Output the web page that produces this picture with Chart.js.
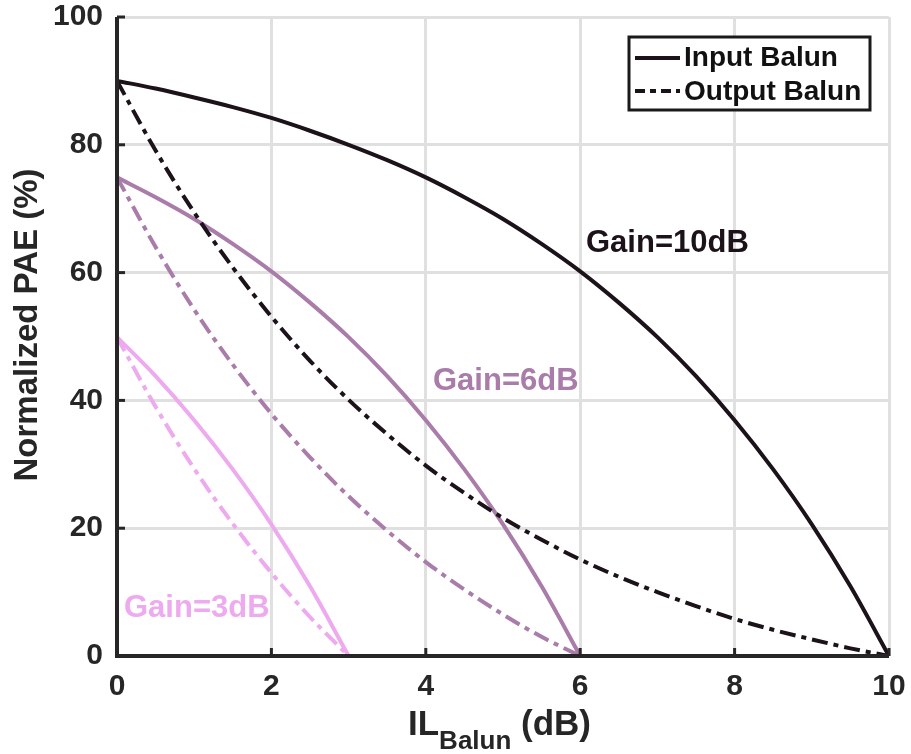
<!DOCTYPE html>
<html>
<head>
<meta charset="utf-8">
<script src="https://cdn.jsdelivr.net/npm/chart.js"></script>
<style>
  html, body { margin: 0; padding: 0; background: #fff; }
  #wrap { width: 911px; height: 754px; }
</style>
</head>
<body>
<div id="wrap"><canvas id="paeChart" width="911" height="754"></canvas></div>
<script>
// insertion loss of the balun (dB)
const ilDb = [0, 0.5, 1, 1.5, 2, 2.5, 3, 3.5, 4, 4.5, 5, 5.5, 6, 6.5, 7, 7.5, 8, 8.5, 9, 9.5, 10];

// Gain = 10dB
const in10 = [90, 88.8, 87.4, 85.9, 84.2, 82.2, 80.0, 77.6, 74.9, 71.8, 68.4, 64.5, 60.2, 55.3, 49.9, 43.8, 36.9, 29.2, 20.6, 10.9, 0];
const out10 = [90, 79.1, 69.4, 60.8, 53.1, 46.2, 40.1, 34.7, 29.8, 25.5, 21.6, 18.2, 15.1, 12.4, 10.0, 7.8, 5.8, 4.1, 2.6, 1.2, 0];

// Gain = 6dB
const in6 = [74.9, 71.8, 68.4, 64.5, 60.2, 55.3, 49.9, 43.8, 36.9, 29.2, 20.6, 10.9, 0];
const out6 = [74.9, 64.0, 54.2, 45.6, 37.9, 31.1, 25.0, 19.6, 14.7, 10.4, 6.5, 3.0, 0];

// Gain = 3dB
const in3 = [49.9, 43.8, 36.9, 29.2, 20.6, 10.9, 0];
const out3 = [49.9, 39.0, 29.3, 20.7, 13.0, 6.1, 0];

const xTicks = [0, 2, 4, 6, 8, 10];
const yTicks = [0, 20, 40, 60, 80, 100];

const C10 = '#1c1219';
const C6 = '#a97ca9';
const C3 = '#eeaaee';
const DASHDOT = [16, 6, 5, 6];
const FONT = '"Liberation Sans", Arial, Helvetica, sans-serif';

function pts(vals) {
  return vals.map((v, i) => ({ x: ilDb[i], y: v }));
}

function line(data, color, dashed) {
  return {
    data: pts(data),
    borderColor: color,
    borderWidth: 4,
    borderDash: dashed ? DASHDOT : [],
    pointRadius: 0,
    fill: false,
    cubicInterpolationMode: 'monotone'
  };
}

// axes, inward ticks, titles, legend and labels
const decor = {
  id: 'decor',
  afterDatasetsDraw(chart) {
    const ctx = chart.ctx;
    const a = chart.chartArea;
    const xs = chart.scales.x, ys = chart.scales.y;
    ctx.save();
    ctx.strokeStyle = '#262626';
    ctx.lineWidth = 4;
    ctx.beginPath();
    ctx.moveTo(a.left, a.top);
    ctx.lineTo(a.left, a.bottom);
    ctx.lineTo(a.right, a.bottom);
    ctx.stroke();
    ctx.lineWidth = 3;
    xTicks.forEach(t => {
      const px = xs.getPixelForValue(t);
      ctx.beginPath(); ctx.moveTo(px, a.bottom); ctx.lineTo(px, a.bottom - 8); ctx.stroke();
    });
    yTicks.forEach(t => {
      const py = ys.getPixelForValue(t);
      ctx.beginPath(); ctx.moveTo(a.left, py); ctx.lineTo(a.left + 8, py); ctx.stroke();
    });

    // curve labels
    ctx.font = 'bold 31px ' + FONT;
    ctx.textBaseline = 'middle';
    ctx.textAlign = 'left';
    ctx.fillStyle = C10; ctx.fillText('Gain=10dB', 586, 243);
    ctx.fillStyle = C6; ctx.fillText('Gain=6dB', 433, 381);
    ctx.fillStyle = C3; ctx.fillText('Gain=3dB', 124, 608);

    // legend
    ctx.fillStyle = '#fff';
    ctx.fillRect(629, 37, 241, 73);
    ctx.strokeStyle = '#1a1a1a';
    ctx.lineWidth = 3;
    ctx.strokeRect(629, 37, 241, 73);
    ctx.strokeStyle = C10;
    ctx.lineWidth = 4;
    ctx.beginPath(); ctx.moveTo(635, 58); ctx.lineTo(680, 58); ctx.stroke();
    ctx.setLineDash([10, 5, 6, 5]);
    ctx.beginPath(); ctx.moveTo(635, 91); ctx.lineTo(680, 91); ctx.stroke();
    ctx.setLineDash([]);
    ctx.fillStyle = '#111';
    ctx.font = 'bold 28px ' + FONT;
    ctx.fillText('Input Balun', 684, 58);
    ctx.fillText('Output Balun', 684, 92);

    // axis titles
    ctx.fillStyle = '#262626';
    ctx.textAlign = 'left';
    ctx.textBaseline = 'alphabetic';
    const parts = [['IL', 35, 0], ['Balun', 26, 14], [' (dB)', 35, 0]];
    let x0 = 408;
    parts.forEach(p => {
      ctx.font = 'bold ' + p[1] + 'px ' + FONT;
      ctx.fillText(p[0], x0, 735 + p[2]);
      x0 += ctx.measureText(p[0]).width;
    });
    ctx.translate(28, 325);
    ctx.rotate(-Math.PI / 2);
    ctx.textAlign = 'center';
    ctx.textBaseline = 'middle';
    ctx.font = 'bold 33px ' + FONT;
    ctx.fillText('Normalized PAE (%)', 0, 0);
    ctx.restore();
  }
};

new Chart(document.getElementById('paeChart'), {
  type: 'line',
  data: {
    datasets: [
      line(in10, C10, false),
      line(out10, C10, true),
      line(in6, C6, false),
      line(out6, C6, true),
      line(in3, C3, false),
      line(out3, C3, true)
    ]
  },
  options: {
    responsive: false,
    animation: false,
    layout: { padding: { top: 17, right: 22, left: 0, bottom: 0 } },
    plugins: { legend: { display: false }, tooltip: { enabled: false } },
    scales: {
      x: {
        type: 'linear', min: 0, max: 10,
        afterBuildTicks: s => { s.ticks = xTicks.map(v => ({ value: v })); },
        afterFit: s => { s.height = 98; s.paddingLeft = 0; s.paddingRight = 0; },
        border: { display: false },
        grid: { color: '#e0e0e0', lineWidth: 3, drawTicks: false },
        ticks: { color: '#262626', padding: 13, font: { family: FONT, size: 30, weight: 'bold' } }
      },
      y: {
        type: 'linear', min: 0, max: 100,
        afterBuildTicks: s => { s.ticks = yTicks.map(v => ({ value: v })); },
        afterFit: s => { s.width = 117; s.paddingTop = 0; s.paddingBottom = 0; },
        border: { display: false },
        grid: { color: '#e0e0e0', lineWidth: 3, drawTicks: false },
        ticks: { color: '#262626', padding: 14, font: { family: FONT, size: 30, weight: 'bold' } }
      }
    }
  },
  plugins: [decor]
});
</script>
</body>
</html>
